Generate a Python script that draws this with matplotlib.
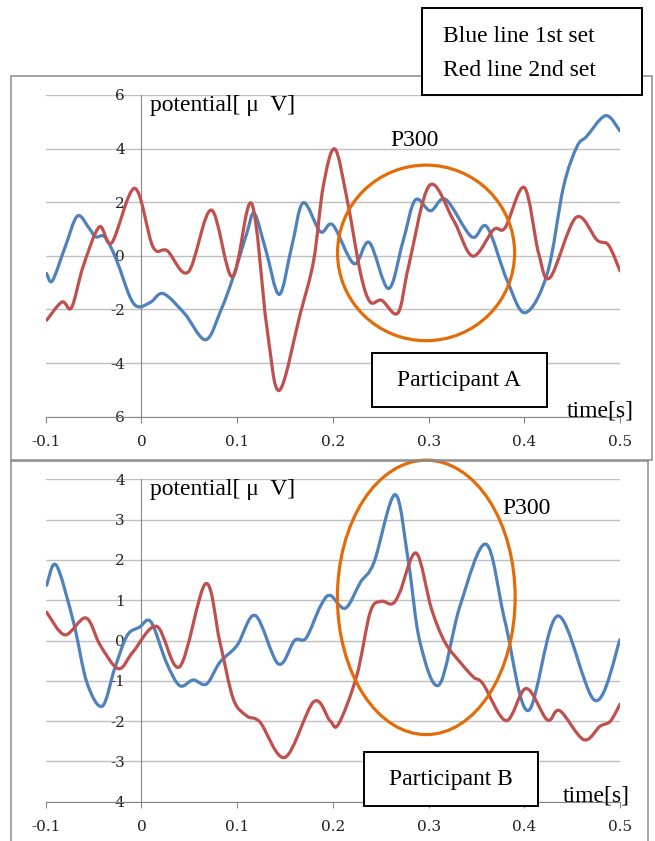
import matplotlib
matplotlib.use('Agg')
import matplotlib.pyplot as plt
from matplotlib.path import Path
from matplotlib.patches import PathPatch, Ellipse, Rectangle
from matplotlib.lines import Line2D
import numpy as np

W, H = 655, 841

# Participant A
a_blue_t = [-0.099, -0.093, -0.080, -0.067, -0.055, -0.048, -0.038, -0.026, -0.012, -0.003,
            0.010, 0.023, 0.045, 0.067, 0.083, 0.096, 0.110, 0.118, 0.130, 0.144, 0.157,
            0.169, 0.187, 0.200, 0.222, 0.238, 0.258, 0.273, 0.286, 0.302, 0.318, 0.345,
            0.361, 0.382, 0.401, 0.424, 0.441, 0.455, 0.465, 0.485, 0.500]
a_blue_v = [-0.66, -0.93, 0.30, 1.48, 1.05, 0.71, 0.70, -0.16, -1.53, -1.90,
            -1.72, -1.41, -2.15, -3.13, -2.03, -0.78, 0.83, 1.58, 0.21, -1.44, 0.34,
            1.98, 0.90, 1.15, -0.29, 0.50, -1.22, 0.50, 2.08, 1.68, 2.10, 0.71,
            1.08, -0.91, -2.12, -0.66, 2.58, 4.07, 4.45, 5.23, 4.66]
a_red_t = [-0.099, -0.083, -0.073, -0.061, -0.044, -0.031, -0.007, 0.012, 0.027, 0.049,
           0.073, 0.095, 0.115, 0.131, 0.144, 0.166, 0.180, 0.190, 0.202, 0.215, 0.229,
           0.239, 0.251, 0.268, 0.279, 0.301, 0.326, 0.346, 0.368, 0.380, 0.400, 0.415,
           0.427, 0.454, 0.476, 0.488, 0.500]
a_red_v = [-2.40, -1.72, -1.93, -0.41, 1.08, 0.49, 2.52, 0.34, 0.19, -0.60,
           1.71, -0.78, 1.96, -2.65, -5.02, -2.15, -0.16, 2.60, 3.99, 2.08, -0.66,
           -1.72, -1.66, -2.13, -0.41, 2.63, 1.33, -0.01, 0.98, 1.05, 2.55, 0.09,
           -0.81, 1.43, 0.59, 0.40, -0.56]

# Participant B
b_blue_t = [-0.099, -0.089, -0.071, -0.057, -0.041, -0.028, -0.015, -0.002, 0.010, 0.026,
            0.040, 0.054, 0.068, 0.082, 0.100, 0.119, 0.143, 0.160, 0.172, 0.187, 0.197,
            0.213, 0.229, 0.243, 0.265, 0.279, 0.291, 0.311, 0.333, 0.360, 0.380, 0.404,
            0.435, 0.474, 0.500]
b_blue_v = [1.37, 1.87, 0.46, -1.04, -1.63, -0.70, 0.12, 0.33, 0.46, -0.54,
            -1.12, -0.98, -1.08, -0.54, -0.12, 0.62, -0.58, 0.00, 0.06, 0.85, 1.12,
            0.80, 1.45, 1.94, 3.62, 1.94, -0.04, -1.10, 0.87, 2.39, 0.46, -1.74,
            0.61, -1.49, 0.02]
b_red_t = [-0.099, -0.080, -0.058, -0.043, -0.024, -0.009, 0.016, 0.040, 0.067, 0.082,
           0.096, 0.110, 0.124, 0.150, 0.180, 0.197, 0.206, 0.225, 0.239, 0.250, 0.262,
           0.270, 0.287, 0.303, 0.317, 0.333, 0.347, 0.357, 0.381, 0.402, 0.424, 0.437,
           0.462, 0.479, 0.490, 0.500]
b_red_v = [0.70, 0.14, 0.56, -0.12, -0.70, -0.29, 0.35, -0.65, 1.41, -0.04,
           -1.45, -1.87, -2.03, -2.90, -1.52, -1.99, -2.07, -0.87, 0.70, 0.97, 0.91,
           1.20, 2.17, 0.79, -0.04, -0.54, -0.91, -1.08, -1.99, -1.19, -1.97, -1.74,
           -2.46, -2.13, -2.00, -1.58]

x_ticks = [-0.1, 0, 0.1, 0.2, 0.3, 0.4, 0.5]
x_labels = ['-0.1', '0', '0.1', '0.2', '0.3', '0.4', '0.5']
a_yticks = [-6, -4, -2, 0, 2, 4, 6]
b_yticks = [-4, -3, -2, -1, 0, 1, 2, 3, 4]

BLUE = '#4F81BD'
RED = '#C0504D'
ORANGE = '#E36C09'
GRID = '#BFBFBF'
AXIS = '#868686'
SERIF = 'Liberation Serif'
TICKFONT = 'DejaVu Serif'


def fx(px):
    return px / W


def fy(py):
    return 1 - py / H


def smooth_path(t, v):
    # Excel style smoothed line: Catmull-Rom through the read points
    p = np.column_stack([t, v])
    n = len(p)
    verts = [p[0]]
    codes = [Path.MOVETO]
    for i in range(n - 1):
        p0 = p[i - 1] if i > 0 else p[i]
        p1, p2 = p[i], p[i + 1]
        p3 = p[i + 2] if i + 2 < n else p[i + 1]
        verts += [p1 + (p2 - p0) / 6, p2 - (p3 - p1) / 6, p2]
        codes += [Path.CURVE4] * 3
    return Path(verts, codes)


def make_axes(fig, top_px, bot_px, yticks):
    ax = fig.add_axes([fx(45.7), fy(bot_px), fx(620) - fx(45.7), fy(top_px) - fy(bot_px)])
    ax.set_xlim(-0.1, 0.5)
    ax.set_ylim(yticks[0], yticks[-1])
    ax.patch.set_alpha(0)
    for s in ['top', 'right']:
        ax.spines[s].set_visible(False)
    ax.spines['left'].set_position(('data', 0))
    ax.spines['left'].set_color(AXIS)
    ax.spines['left'].set_linewidth(0.8)
    ax.spines['bottom'].set_color(AXIS)
    ax.spines['bottom'].set_linewidth(0.8)
    ax.set_xticks(x_ticks)
    ax.set_xticklabels(x_labels)
    ax.set_yticks(yticks)
    ax.set_yticklabels([str(v) for v in yticks])
    ax.tick_params(axis='x', direction='out', length=4, width=0.8, color=AXIS, pad=9.5,
                   labelsize=11, labelcolor='#222222')
    ax.tick_params(axis='y', length=0, pad=12, labelsize=11, labelcolor='#222222')
    for lab in ax.get_xticklabels() + ax.get_yticklabels():
        lab.set_fontfamily(TICKFONT)
    ax.yaxis.grid(True, color=GRID, linewidth=1.0)
    ax.set_axisbelow(True)
    return ax


fig = plt.figure(figsize=(W / 100, H / 100), dpi=100)

# chart frames
fig.add_artist(Rectangle((fx(11), fy(460)), fx(652) - fx(11), fy(76) - fy(460),
                         transform=fig.transFigure, fill=False, edgecolor='#8C8C8C', linewidth=1.1))
fig.add_artist(Line2D([fx(11), fx(648)], [fy(461), fy(461)], transform=fig.transFigure,
                      color='#8C8C8C', linewidth=1.1))
fig.add_artist(Line2D([fx(11), fx(11)], [fy(461), 0], transform=fig.transFigure,
                      color='#8C8C8C', linewidth=1.1))
fig.add_artist(Line2D([fx(648), fx(648)], [fy(461), 0], transform=fig.transFigure,
                      color='#8C8C8C', linewidth=1.1))

panels = [
    (95, 416.7, a_yticks, a_blue_t, a_blue_v, a_red_t, a_red_v,
     (0.2974, 0.11, 0.185, 6.55)),
    (479.3, 801.7, b_yticks, b_blue_t, b_blue_v, b_red_t, b_red_v,
     (0.2976, 1.07, 0.1857, 6.81)),
]
for top_px, bot_px, yt, bt, bv, rt, rv, ell in panels:
    ax = make_axes(fig, top_px, bot_px, yt)
    ax.add_patch(PathPatch(smooth_path(bt, bv), fill=False, edgecolor=BLUE, linewidth=2.3,
                           capstyle='round', joinstyle='round', zorder=3))
    ax.add_patch(PathPatch(smooth_path(rt, rv), fill=False, edgecolor=RED, linewidth=2.3,
                           capstyle='round', joinstyle='round', zorder=3))
    ax.add_patch(Ellipse((ell[0], ell[1]), ell[2], ell[3], fill=False, edgecolor=ORANGE,
                         linewidth=2.3, zorder=4, clip_on=False))

# text boxes
for x0, y0, x1, y1 in [(421.7, 8, 642, 95), (371.7, 352.7, 546.7, 407.3), (364, 751.7, 538, 805.7)]:
    fig.add_artist(Rectangle((fx(x0), fy(y1)), fx(x1) - fx(x0), fy(y0) - fy(y1),
                             transform=fig.transFigure, facecolor='white', edgecolor='black',
                             linewidth=1.4, zorder=5))

txt = dict(family=SERIF, fontsize=17, color='black', zorder=6)
fig.text(fx(443), fy(37), 'Blue line 1st set', ha='left', va='center', **txt)
fig.text(fx(443), fy(70), 'Red line 2nd set', ha='left', va='center', **txt)
fig.text(fx(459), fy(381), 'Participant A', ha='center', va='center', **txt)
fig.text(fx(451), fy(779), 'Participant B', ha='center', va='center', **txt)
fig.text(fx(150), fy(105), 'potential[ μ  V]', ha='left', va='center', **txt)
fig.text(fx(150), fy(489), 'potential[ μ  V]', ha='left', va='center', **txt)
fig.text(fx(415), fy(140), 'P300', ha='center', va='center', **txt)
fig.text(fx(527), fy(508), 'P300', ha='center', va='center', **txt)
fig.text(fx(567), fy(411), 'time[s]', ha='left', va='center', **txt)
fig.text(fx(563), fy(796), 'time[s]', ha='left', va='center', **txt)

fig.savefig('out.png', dpi=100)
